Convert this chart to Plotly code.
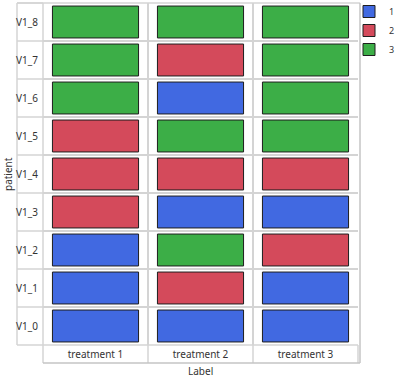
import plotly.graph_objects as go

patients = ["V1_0", "V1_1", "V1_2", "V1_3", "V1_4", "V1_5", "V1_6", "V1_7", "V1_8"]
treatments = ["treatment 1", "treatment 2", "treatment 3"]
# values per patient (rows, bottom to top) across treatments
values = [
    [1, 1, 1],  # V1_0
    [1, 2, 1],  # V1_1
    [1, 3, 2],  # V1_2
    [2, 1, 1],  # V1_3
    [2, 2, 2],  # V1_4
    [2, 3, 3],  # V1_5
    [3, 1, 3],  # V1_6
    [3, 2, 3],  # V1_7
    [3, 3, 3],  # V1_8
]
levels = [1, 2, 3]
level_colors = {1: "#4169E1", 2: "#D44A5B", 3: "#3CAE47"}

W, H = 400, 379
L, R, T, B = 43, 42, 3, 34
PW, PH = W - L - R, H - T - B

def px(x):
    return (x - L) / PW

def py(y):
    return (H - B - y) / PH

BAR_H = 0.84
BAR_W = 0.82

fig = go.Figure()
for lv in levels:
    xs, bases, hs = [], [], []
    for ri, row in enumerate(values):
        for ci, v in enumerate(row):
            if v == lv:
                xs.append(treatments[ci])
                bases.append(ri - BAR_H / 2)
                hs.append(BAR_H)
    fig.add_trace(go.Bar(
        x=xs, y=hs, base=bases, name=str(lv), width=BAR_W,
        marker=dict(color=level_colors[lv], line=dict(color="#1e1e1e", width=1)),
    ))

grid = "#d4d4d4"
fig.update_layout(
    width=W, height=H,
    margin=dict(l=L, r=R, t=T, b=B, autoexpand=False),
    paper_bgcolor="white", plot_bgcolor="white",
    barmode="overlay",
    font=dict(family="Noto Sans, Open Sans, sans-serif", size=10, color="#333333"),
    showlegend=True,
    legend=dict(x=px(400), y=py(-3), xanchor="right", yanchor="top",
                font=dict(size=9), bgcolor="rgba(0,0,0,0)",
                tracegroupgap=0),
    xaxis=dict(type="category", categoryorder="array", categoryarray=treatments,
               tickson="boundaries", showgrid=True, gridcolor=grid, gridwidth=1.5,
               ticks="", showline=False, zeroline=False, fixedrange=True,
               range=[-0.5, 2.5], ticklabelstandoff=2, automargin=False),
    yaxis=dict(range=[-0.5, 8.5], tickvals=list(range(len(patients))), ticktext=patients,
               showgrid=False, zeroline=False, ticks="", showline=False,
               ticklabelstandoff=4, automargin=False, fixedrange=True,
               minor=dict(tickvals=[i + 0.5 for i in range(-1, len(patients))],
                          showgrid=True, gridcolor=grid, gridwidth=1.5, ticks="")),
)

shapes = []
def line(x0, y0, x1, y1, w=1.5, c=grid):
    shapes.append(dict(type="line", xref="paper", yref="paper",
                       x0=px(x0), y0=py(y0), x1=px(x1), y1=py(y1),
                       line=dict(color=c, width=w), layer="below"))

row_h = PH / len(patients)
# label column
line(17, 3, 17, 345)
for i in range(len(patients) + 1):
    yy = 3 + i * row_h
    line(17, yy, 43, yy)
line(43, 3, 43, 345)
# bottom row
line(43, 345, 43, 363)
for i in range(1, len(treatments) + 1):
    xx = 43 + i * PW / len(treatments)
    line(xx, 345, xx, 363)
line(43, 363, 360, 363, c="#c4c4c4")
line(43, 345, 358, 345)
# outer frame
line(17, 3, 360, 3)
line(360, 3, 360, 363, c="#c4c4c4")
fig.update_layout(shapes=shapes)

fig.add_annotation(text="patient", xref="paper", yref="paper", x=px(8), y=py(174),
                   xanchor="center", yanchor="middle",
                   textangle=-90, showarrow=False, font=dict(size=10))
fig.add_annotation(text="Label", xref="paper", yref="paper", x=px(200.5), y=py(371),
                   xanchor="center", yanchor="middle",
                   showarrow=False, font=dict(size=10))

fig.write_html("out.html", config={"displayModeBar": False},
               post_script="document.body.style.margin='0';")
